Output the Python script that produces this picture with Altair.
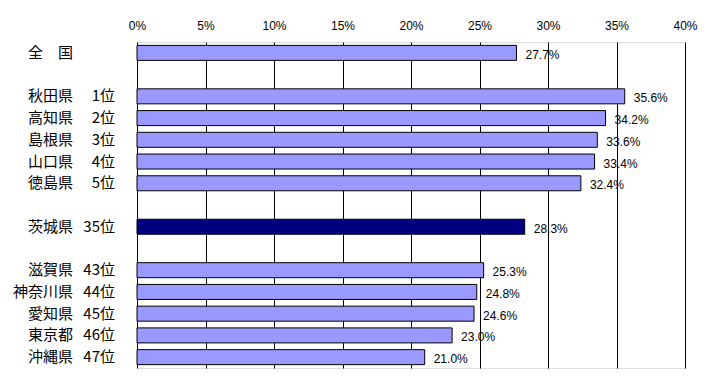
import altair as alt
import pandas as pd

names = ["全　国", "秋田県", "高知県", "島根県", "山口県", "徳島県", "茨城県",
         "滋賀県", "神奈川県", "愛知県", "東京都", "沖縄県"]
ranks = ["", "1位", "2位", "3位", "4位", "5位", "35位", "43位", "44位", "45位", "46位", "47位"]
values = [27.7, 35.6, 34.2, 33.6, 33.4, 32.4, 28.3, 25.3, 24.8, 24.6, 23.0, 21.0]
groups = [0, 1, 1, 1, 1, 1, 2, 3, 3, 3, 3, 3]
highlight = "茨城県"
x_ticks = [0, 5, 10, 15, 20, 25, 30, 35, 40]

# build row order with blank spacer rows between groups
domain = []
prev = None
for n, g in zip(names, groups):
    if prev is not None and g != prev:
        domain.append(" " * g)
    domain.append(n)
    prev = g

df = pd.DataFrame({
    "name": names,
    "rank": ranks,
    "value": values,
    "label": [f"{v:.1f}%" for v in values],
    "hl": ["hl" if n == highlight else "normal" for n in names],
})

y = alt.Y("name:N", scale=alt.Scale(domain=domain), axis=None)

base = alt.Chart(df)

bars = base.mark_bar(size=15, stroke="black", strokeWidth=1).encode(
    x=alt.X("value:Q", scale=alt.Scale(domain=[0, 40]),
            axis=alt.Axis(orient="top", values=x_ticks, labelExpr="datum.value + '%'",
                          title=None, grid=True, gridColor="black", gridOpacity=1,
                          gridWidth=1, ticks=False, domain=False, labelPadding=10,
                          labelFlush=False, labelOverlap=False,
                          labelFont="Liberation Sans", labelFontSize=12,
                          labelColor="black")),
    y=y,
    color=alt.Color("hl:N", scale=alt.Scale(domain=["normal", "hl"],
                                             range=["#9999FF", "#000080"]), legend=None),
)

vals = base.mark_text(align="left", baseline="middle", dx=9, dy=2,
                      font="Liberation Sans", fontSize=12, color="black").encode(
    x="value:Q", y=y, text="label:N")

name_txt = base.mark_text(align="right", baseline="middle", font="Noto Sans CJK JP",
                          fontSize=15, color="black").encode(
    x=alt.value(-64), y=y, text="name:N")

rank_txt = base.mark_text(align="right", baseline="middle", font="Noto Sans CJK JP",
                          fontSize=15, color="black").encode(
    x=alt.value(-22), y=y, text="rank:N")

chart = alt.layer(bars, vals, name_txt, rank_txt).properties(
    width=548, height=326,
    padding={"left": 129, "top": 34, "right": 14, "bottom": 2},
    autosize=alt.AutoSizeParams(type="none"),
).configure_view(stroke="black", strokeWidth=1).configure(background="white")

chart.save("out.html", embed_options={"renderer": "svg", "actions": False})
